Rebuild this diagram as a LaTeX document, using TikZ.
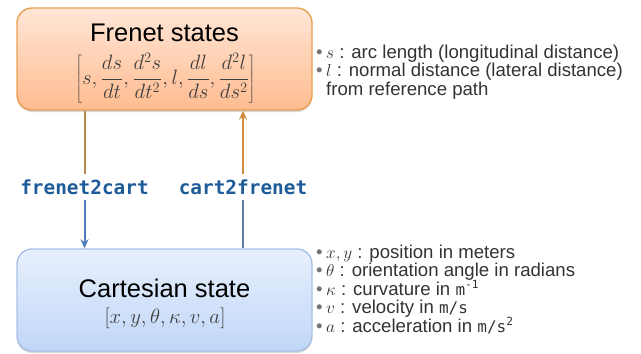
\documentclass[tikz,border=0pt]{standalone}
\usepackage[no-math]{fontspec}
\setmainfont{Liberation Sans}
\newfontfamily\codefont{DejaVu Sans Mono}
\usetikzlibrary{arrows.meta,shadows}

\definecolor{frenetTop}{HTML}{FFE6D6}
\definecolor{frenetBot}{HTML}{FFBC90}
\definecolor{frenetLine}{HTML}{E9A052}
\definecolor{cartTop}{HTML}{E8F0FD}
\definecolor{cartBot}{HTML}{C0D6F7}
\definecolor{cartLine}{HTML}{A9C1E5}
\definecolor{codeBlue}{HTML}{1E5C99}
\definecolor{arrOrange}{HTML}{D28A3E}
\definecolor{arrBlue}{HTML}{4F7FBA}
\definecolor{mathGray}{HTML}{3F3F3F}
\definecolor{bodyText}{HTML}{333333}

\tikzset{
  statebox/.style={rounded corners=15pt, minimum width=295pt, minimum height=102pt,
    line width=1.4pt, inner sep=0pt,
    drop shadow={shadow xshift=0pt, shadow yshift=-2pt, opacity=.25, fill=black!60}},
  title/.style={font=\fontsize{25.5}{28}\selectfont, text=black, inner sep=0pt},
  vec/.style={text=mathGray, inner sep=0pt},
  codelabel/.style={font=\codefont\bfseries\fontsize{19.4}{22}\selectfont, text=codeBlue,
    fill=white, inner xsep=4pt, inner ysep=5pt},
  bulletline/.style={anchor=base west, inner sep=0pt, text=bodyText,
    font=\fontsize{18.6}{18.6}\selectfont},
  conv/.style={line width=2pt, -{Stealth[length=9pt,width=8pt]}},
  plainlink/.style={line width=2pt},
}
\newcommand{\bul}{\makebox[10pt][l]{\textcolor{black!55}{\textbullet}}}
\newcommand{\unitcode}[1]{{\codefont\fontsize{16}{18}\selectfont #1}}

\begin{document}
\begin{tikzpicture}[x=1pt, y=-1pt]
  \useasboundingbox (0,0) rectangle (641,354);

  % the two state boxes
  \node[statebox, draw=frenetLine, top color=frenetTop, bottom color=frenetBot]
    (frenet) at (164.5,59) {};
  \node[statebox, draw=cartLine, top color=cartTop, bottom color=cartBot]
    (cart) at (164.5,300) {};

  \node[title] (ftitle) at (164.5,33) {Frenet states};
  \node[vec, font=\fontsize{20.5}{22}\selectfont] (fvec) at (165.5,78)
    {$\displaystyle\left[s,\frac{ds}{dt},\frac{d^2s}{dt^2},l,\frac{dl}{ds},\frac{d^2l}{ds^2}\right]$};

  \node[title] (ctitle) at (164.5,288) {Cartesian state};
  \node[vec, font=\fontsize{21}{23}\selectfont] (cvec) at (165,318)
    {$[x,y,\theta,\kappa,v,a]$};

  % conversion labels
  \node[codelabel] (f2c) at (84.5,187) {frenet2cart};
  \node[codelabel] (c2f) at (243,187) {cart2frenet};

  % frenet -> cartesian
  \draw[plainlink, arrOrange!70!gray] (f2c |- frenet.south) -- (f2c.north);
  \draw[conv, arrBlue] (f2c.south) -- (f2c |- cart.north);
  % cartesian -> frenet
  \draw[plainlink, arrBlue!70!gray] (c2f |- cart.north) -- (c2f.south);
  \draw[conv, arrOrange] (c2f.north) -- (c2f |- frenet.south);

  % notes on the Frenet quantities
  \node[bulletline] (n1) at (316,58) {\bul$s$ : arc length (longitudinal distance)};
  \node[bulletline] (n2) at (316,76.5) {\bul$l$ : normal distance (lateral distance)};
  \node[bulletline] (n3) at (316,95) {\hspace{10pt}from reference path};

  % notes on the Cartesian quantities
  \node[bulletline] (m1) at (316,258) {\bul$x,y$ : position in meters};
  \node[bulletline] (m2) at (316,276.5) {\bul$\theta$ : orientation angle in radians};
  \node[bulletline] (m3) at (316,295) {\bul$\kappa$ : curvature in \unitcode{m\textsuperscript{-1}}};
  \node[bulletline] (m4) at (316,313.5) {\bul$v$ : velocity in \unitcode{m/s}};
  \node[bulletline] (m5) at (316,332) {\bul$a$ : acceleration in \unitcode{m/s\textsuperscript{2}}};
\end{tikzpicture}
\end{document}
